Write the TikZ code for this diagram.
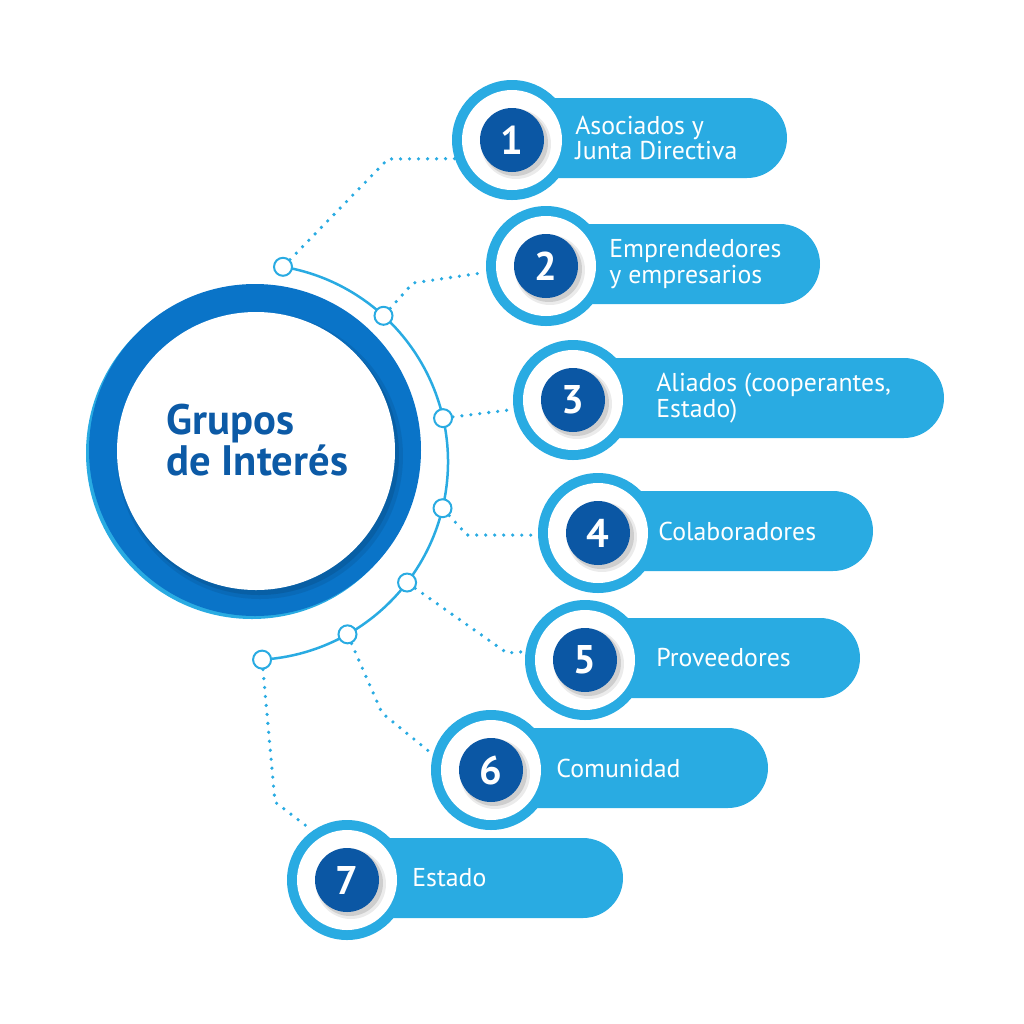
\documentclass[tikz,border=0pt]{standalone}
\usepackage{fontspec}
\setmainfont{PT Sans}
\usetikzlibrary{calc}
\definecolor{lb}{HTML}{29ABE2}
\definecolor{dk}{HTML}{0B57A4}
\definecolor{ring}{HTML}{0A74C8}
\definecolor{ttl}{HTML}{0C5AA6}
\tikzset{
  dots/.style={lb, line width=1.8pt, line cap=round, dash pattern=on 0pt off 4.5pt},
  knot/.style={circle, draw=lb, fill=white, line width=1pt, minimum size=9pt, inner sep=0pt},
  outer/.style={circle, fill=lb, minimum size=60pt, inner sep=0pt},
  numtxt/.style={text=white, font=\fontsize{20}{20}\selectfont\bfseries},
  itemtxt/.style={text=white, anchor=west, align=left, inner sep=0pt, font=\fontsize{12.9}{11.5}\selectfont},
}
\newcommand\gitem[6]{%
  \fill[lb, rounded corners=20pt] ({#2},{-#3+42}) rectangle ({#4},{-#3-38});
  \node[outer] (c#1) at ({#2},{-#3}) {};
  \fill[white] (c#1) circle (50);
  \fill[black, opacity=0.12] ({#2+3},{-#3-3}) circle (33);
  \fill[black, opacity=0.08] ({#2+4},{-#3-4}) circle (35);
  \fill[dk] (c#1) circle (32);
  \node[numtxt] (n#1) at (c#1) {#1};
  \node[itemtxt] (t#1) at ({#5},{-#3+2}) {#6};
}
\begin{document}
\begin{tikzpicture}[x=0.5pt,y=0.5pt]
\useasboundingbox (0,0) rectangle (1024,-1024);
% main circle
\fill[lb] (252,-453) circle (166);
\fill[ring] (255,-450) circle (166);
\fill[black, opacity=0.08] (260,-456) circle (143);
\fill[black, opacity=0.10] (259,-455) circle (140);
\fill[white] (256,-451) circle (139);
\node[text=ttl, anchor=west, align=left, inner sep=0pt, font=\fontsize{21.3}{17.5}\selectfont\bfseries] (title) at (166,-440) {Grupos\\de Interés};
% arc
\coordinate (ac) at (250,-462);
\draw[lb, line width=1.25pt] ($(ac)+(80.4:198)$) arc[start angle=80.4, end angle=-86.5, radius=198];
\foreach \i/\a in {1/80.4,2/47.6,3/12.8,4/-13.5,5/-37.5,6/-60.5,7/-86.5}
  \coordinate (k\i) at ($(ac)+(\a:198)$);
% connectors (drawn under the items)
\foreach \i in {1,...,7} \coordinate (s\i) at (k\i);
% items
\gitem{1}{512}{140}{787}{575}{Asociados y\\Junta Directiva}
\gitem{2}{546}{266}{820}{609}{Emprendedores\\y empresarios}
\gitem{3}{573}{400}{944}{656}{Aliados (cooperantes,\\Estado)}
\gitem{4}{598}{533}{873}{658}{Colaboradores}
\gitem{5}{585}{660}{860}{656}{Proveedores}
\gitem{6}{491}{770}{768}{556}{Comunidad}
\gitem{7}{347}{880}{623}{412}{Estado}
% knots
\foreach \i in {1,...,7} \node[knot] (s\i) at (k\i) {};
\draw[dots] (s1) -- (388,-159) -- (c1.198);
\draw[dots] (s2) -- (413,-283) -- (c2.186);
\draw[dots] (s3) -- (c3.189);
\draw[dots] (s4) -- (467,-535) -- (c4.182);
\draw[dots] (s5) -- (507,-653) -- (c5.172);
\draw[dots] (s6) -- (382,-713) -- (c6.165);
\draw[dots] (s7) -- (275,-802) -- (c7.125);
\end{tikzpicture}
\end{document}
